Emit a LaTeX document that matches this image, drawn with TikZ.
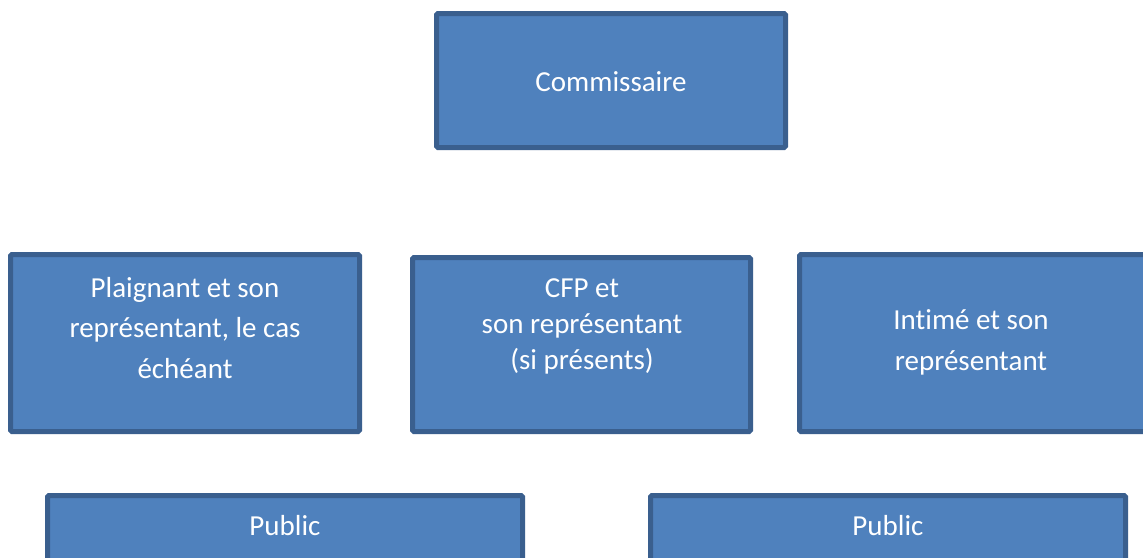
\documentclass[tikz,border=0pt]{standalone}
\usepackage{fontspec}
\setmainfont{Carlito}[Ligatures=NoCommon]
\definecolor{boxfill}{HTML}{4F81BD}
\definecolor{boxline}{HTML}{3A5F8E}
\begin{document}
\begin{tikzpicture}[x=1pt,y=-1pt,
  box/.style={draw=boxline,fill=boxfill,line width=5pt,rounded corners=1.5pt,inner sep=0pt},
  lbl/.style={text=white,align=center,anchor=base,inner sep=0pt,
    font=\fontsize{29}{40.5}\selectfont}]
\clip (0,0) rectangle (1143,557);
\fill[white] (0,0) rectangle (1143,557);
% boxes
\node[box,minimum width=349pt,minimum height=134pt] (com) at (611,80.5) {};
\node[box,minimum width=349pt,minimum height=177pt] (pla) at (185,343) {};
\node[box,minimum width=338pt,minimum height=174pt] (cfp) at (581.5,344.5) {};
\node[box,minimum width=360.5pt,minimum height=177pt] (int) at (979.75,343) {};
\node[box,minimum width=475pt,minimum height=104.5pt] (pub1) at (285,547.75) {};
\node[box,minimum width=475pt,minimum height=104.5pt] (pub2) at (888,547.75) {};
% texts (anchored at the baseline of the last line)
\node[lbl] (tcom) at (611,91) {Commissaire};
\node[lbl] (tpla) at (185,378) {Plaignant et son\\représentant, le cas\\échéant};
\node[lbl,font=\fontsize{29}{36}\selectfont] (tcfp) at (582,369) {CFP et\\son représentant\\(si présents)};
\node[lbl] (tint) at (971,370) {Intimé et son\\représentant};
\node[lbl] (tpub1) at (285,535) {Public};
\node[lbl] (tpub2) at (888,535) {Public};
\end{tikzpicture}
\end{document}
